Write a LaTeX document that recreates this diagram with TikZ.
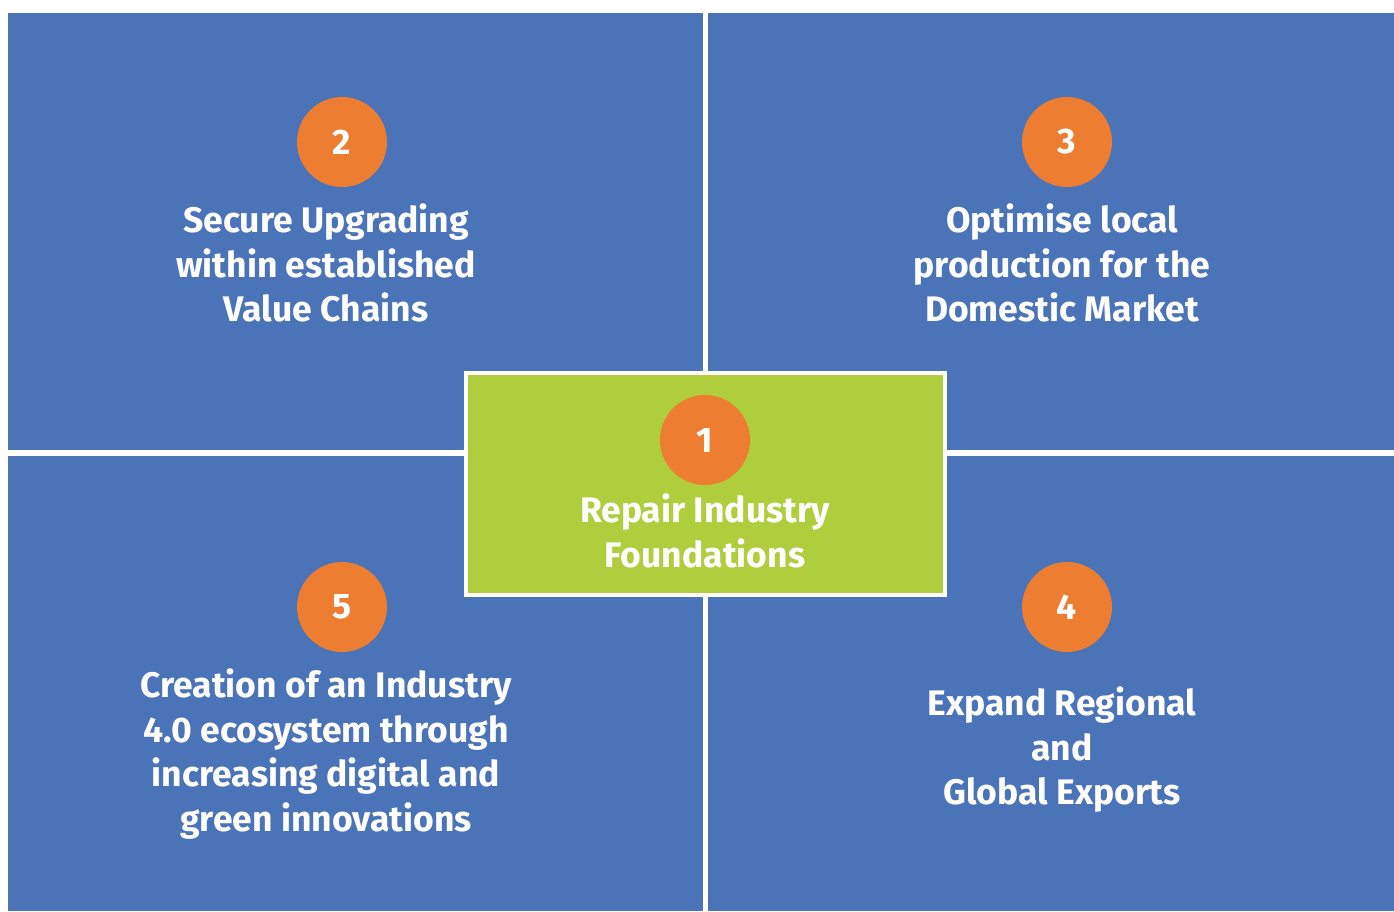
\documentclass[tikz,border=0pt]{standalone}
\usepackage{fontspec}
\setmainfont{Fira Sans}
\definecolor{quadblue}{RGB}{74,115,184}
\definecolor{coregreen}{RGB}{176,205,61}
\definecolor{numorange}{RGB}{237,125,49}
\begin{document}
\begin{tikzpicture}
[x=1pt,y=-1pt,
every node/.style={text=white,font=\bfseries\fontsize{35.5}{44.5}\selectfont,align=center},
numdot/.style={circle,fill=numorange,minimum size=90pt,inner sep=0pt},
]
\useasboundingbox (0,0) rectangle (1394,911);
\fill[white] (0,0) rectangle (1394,911);
% four fields
\fill[quadblue] (8,13) rectangle (703,450);
\fill[quadblue] (708,13) rectangle (1394,450);
\fill[quadblue] (8,456) rectangle (703,911);
\fill[quadblue] (708,456) rectangle (1394,911);
% centre box
\node[draw=white,line width=4pt,fill=coregreen,minimum width=479pt,minimum height=222pt]
  (core) at (705.5,484) {};

\node[numdot] (n1) at (705,440) {1};
\node (t1) at (705,531) {Repair Industry\\Foundations};

\node[numdot] (n2) at (342,142) {2};
\node (t2) at (326,263) {Secure Upgrading\\within established\\Value Chains};

\node[numdot] (n3) at (1067,142) {3};
\node (t3) at (1062,263) {Optimise local\\production for the\\Domestic Market};

\node[numdot] (n4) at (1067,607) {4};
\node (t4) at (1062,750) {Expand Regional\\and\\Global Exports};

\node[numdot] (n5) at (342,607) {5};
\node (t5) at (326,754) {Creation of an Industry\\4.0 ecosystem through\\increasing digital and\\green innovations};
\end{tikzpicture}
\end{document}
